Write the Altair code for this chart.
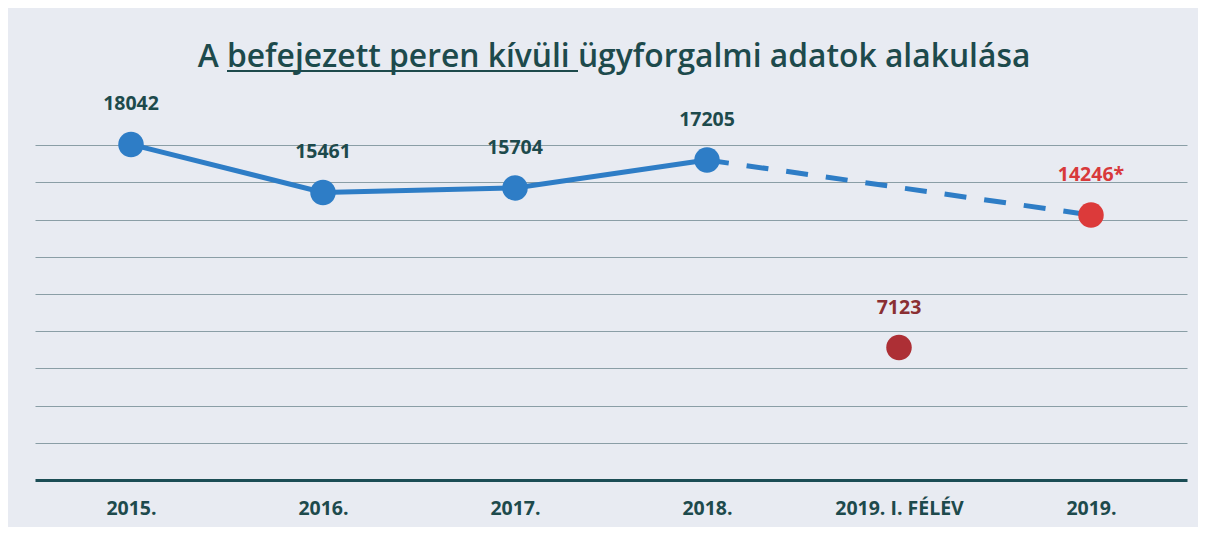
import altair as alt
import pandas as pd

categories = ["2015.", "2016.", "2017.", "2018.", "2019. I. FÉLÉV", "2019."]
main_cats = ["2015.", "2016.", "2017.", "2018."]
main_values = [18042, 15461, 15704, 17205]
half_cat = "2019. I. FÉLÉV"
half_value = 7123
full_cat = "2019."
full_value = 14246
full_label = "14246*"
grid_values = [2000, 4000, 6000, 8000, 10000, 12000, 14000, 16000, 18000]

title_text = "A befejezett peren kívüli ügyforgalmi adatok alakulása"

TEAL = "#1d4a4c"
BLUE = "#2e7dc6"

rows = [{"cat": c, "value": v, "label": str(v), "dot": BLUE, "ink": TEAL} for c, v in zip(main_cats, main_values)]
rows.append({"cat": half_cat, "value": half_value, "label": str(half_value), "dot": "#ad2f35", "ink": "#8a2f33"})
rows.append({"cat": full_cat, "value": full_value, "label": full_label, "dot": "#dc3a3a", "ink": "#d8393b"})
df = pd.DataFrame(rows)
df_main = df[df.cat.isin(main_cats)]
df_dash = df[df.cat.isin(["2018.", "2019."])]

x_enc = alt.X("cat:N", sort=categories, scale=alt.Scale(type="point", domain=categories, padding=0.5),
              axis=alt.Axis(title=None, ticks=False, grid=False, labelAngle=0, labelFont="Open Sans",
                            labelFontWeight="bold", labelFontSize=19.5, labelColor=TEAL, labelPadding=19,
                            domainColor="#1b4d55", domainWidth=3))
y_enc = alt.Y("value:Q", scale=alt.Scale(domain=[0, 20000], nice=False),
              axis=alt.Axis(title=None, labels=False, ticks=False, domain=False, values=grid_values,
                            gridColor="#8a9ea6", gridWidth=1))

base = alt.Chart(df)

line_solid = alt.Chart(df_main).mark_line(strokeWidth=5, color=BLUE).encode(x=x_enc, y=y_enc)
line_dash = alt.Chart(df_dash).mark_line(strokeWidth=5, color=BLUE, strokeDash=[22, 18]).encode(x=x_enc, y=y_enc)

points = base.mark_circle(size=650, opacity=1).encode(
    x=x_enc, y=y_enc, color=alt.Color("dot:N", scale=None, legend=None))
labels = base.mark_text(dy=-40, font="Open Sans", fontWeight="bold", fontSize=19.5).encode(
    x=x_enc, y=y_enc, text="label:N", color=alt.Color("ink:N", scale=None, legend=None))

title = alt.Chart(pd.DataFrame({"t": [title_text]})).mark_text(
    font="Open Sans", fontWeight=600, fontSize=31.8, color=TEAL, baseline="middle", align="center"
).encode(x=alt.value(579), y=alt.value(-51), text="t:N")
underline = alt.Chart(pd.DataFrame({"t": [1]})).mark_rule(color=TEAL, strokeWidth=2).encode(
    x=alt.value(192), x2=alt.value(543), y=alt.value(-37))

chart = alt.layer(line_solid, line_dash, points, labels, title, underline).properties(
    width=1152, height=372,
    autosize=alt.AutoSizeParams(type="none"),
    padding={"left": 27, "top": 100, "right": 11, "bottom": 47},
    background="#e8ebf2",
).configure_view(stroke=None)

chart.save("out.html", embed_options={"renderer": "svg", "actions": False})
